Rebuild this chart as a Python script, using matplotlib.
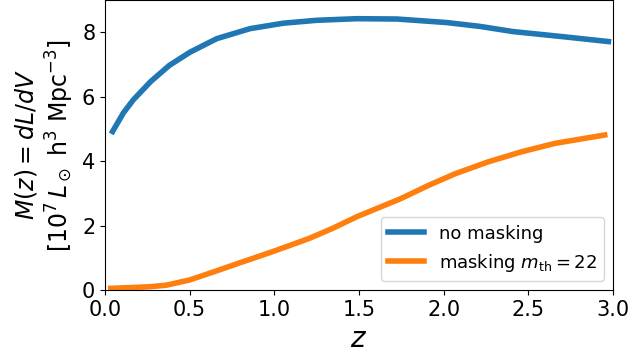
import matplotlib
matplotlib.use("Agg")
import matplotlib.pyplot as plt

# luminosity density M(z) in units of 1e7 Lsun h^3 Mpc^-3
z_nomask = [0.045, 0.108, 0.167, 0.27, 0.38, 0.502, 0.66, 0.856, 1.053, 1.25,
            1.486, 1.723, 2.018, 2.215, 2.41, 2.707, 2.973]
m_nomask = [4.92, 5.49, 5.90, 6.47, 6.97, 7.38, 7.80, 8.11, 8.28, 8.37,
            8.42, 8.41, 8.30, 8.18, 8.02, 7.86, 7.71]

z_mask = [0.034, 0.265, 0.363, 0.5, 0.657, 0.814, 0.99, 1.206, 1.343, 1.49,
          1.578, 1.745, 1.912, 2.069, 2.265, 2.461, 2.657, 2.951]
m_mask = [0.05, 0.10, 0.15, 0.31, 0.59, 0.875, 1.19, 1.60, 1.91, 2.28,
          2.47, 2.83, 3.25, 3.61, 3.98, 4.29, 4.55, 4.81]

xticks = [0.0, 0.5, 1.0, 1.5, 2.0, 2.5, 3.0]
yticks = [0, 2, 4, 6, 8]

fig = plt.figure(figsize=(6.32, 3.58), dpi=100)
ax = fig.add_axes([0.1661, 0.19, 0.8038, 0.81])

ax.plot(z_nomask, m_nomask, color="#1f77b4", lw=4, label="no masking")
ax.plot(z_mask, m_mask, color="#ff7f0e", lw=4, label=r"masking $m_{\rm th} = 22$")

ax.set_xlim(0, 3.0)
ax.set_ylim(0, 9)
ax.set_xticks(xticks)
ax.set_yticks(yticks)
ax.tick_params(labelsize=15)
ax.set_xlabel(r"$z$", fontsize=20)
ax.set_ylabel("$M(z) = dL/dV$\n[$10^7\\,L_\\odot$ h$^3$ Mpc$^{-3}$]", fontsize=17)
ax.legend(loc="lower right", fontsize=13)

fig.savefig("out.png", dpi=100)
